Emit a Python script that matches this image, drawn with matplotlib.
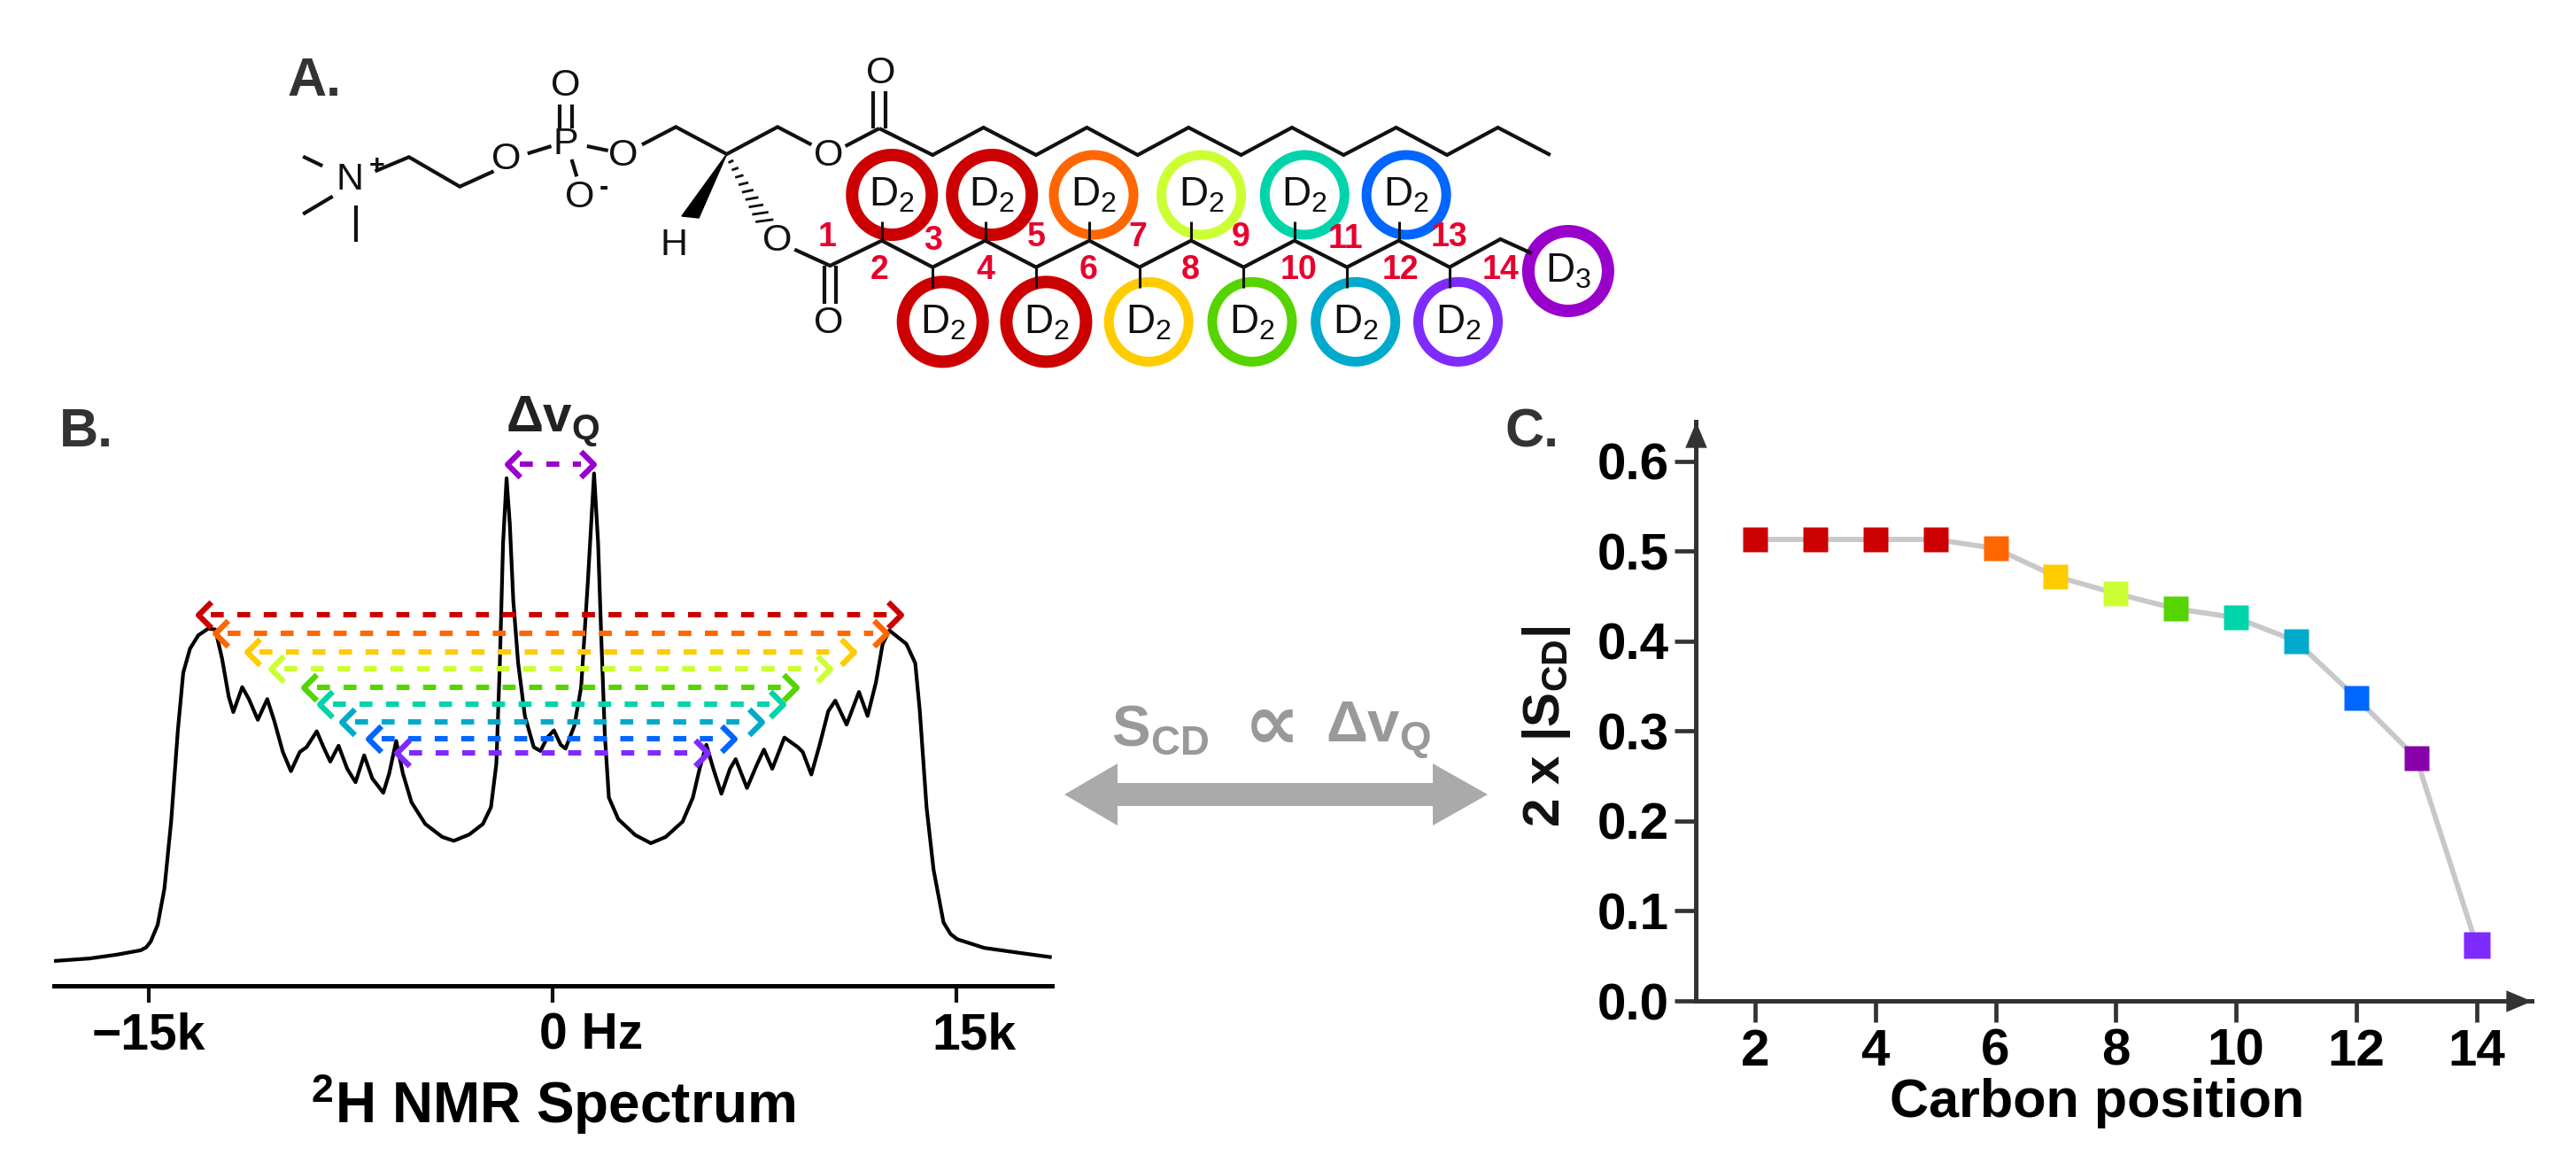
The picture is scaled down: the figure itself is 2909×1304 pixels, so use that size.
import matplotlib
matplotlib.use("Agg")
import matplotlib.pyplot as plt
from matplotlib.path import Path
from matplotlib.patches import Circle, Polygon
from matplotlib.transforms import ScaledTranslation

W, H = 2909, 1304
plt.rcParams['font.family'] = ['Liberation Sans', 'DejaVu Sans']
plt.rcParams['mathtext.fontset'] = 'custom'
plt.rcParams['mathtext.rm'] = 'Liberation Sans'
plt.rcParams['mathtext.bf'] = 'Liberation Sans:bold'
plt.rcParams['mathtext.it'] = 'Liberation Sans:italic'
plt.rcParams['mathtext.default'] = 'regular'

# ---------- data ----------
spectrum_khz = [-18.45,-17.19,-16.18,-15.30,-15.10,-14.93,-14.67,-14.42,-14.17,-13.92,-13.72,-13.47,-13.16,-12.79,-12.53,-12.28,-12.03,-11.86,-11.53,-11.28,-10.95,-10.60,-10.34,-10.02,-9.72,-9.39,-9.14,-8.76,-8.51,-8.26,-7.95,-7.63,-7.32,-7.00,-6.70,-6.29,-6.07,-5.81,-5.56,-5.24,-4.73,-4.10,-3.67,-3.10,-2.59,-2.29,-2.09,-1.96,-1.84,-1.71,-1.59,-1.46,-1.28,-1.03,-0.70,-0.45,-0.20,0.05,0.30,0.48,0.81,1.06,1.31,1.54,1.69,1.81,1.94,2.09,2.44,3.07,3.65,4.20,4.83,5.21,5.46,5.71,5.97,6.27,6.59,6.80,7.22,7.60,7.85,8.16,8.61,9.11,9.29,9.61,9.92,10.24,10.50,10.92,11.38,11.70,12.01,12.26,12.51,13.14,13.47,13.64,13.89,14.15,14.52,14.78,15.03,16.03,17.29,18.47]
spectrum_int = [5.2,5.7,6.5,7.4,8.0,9.2,12.7,20.2,34.2,53.2,65.2,70.2,73.0,74.4,74.2,68.2,60.2,57.0,62.2,59.7,55.4,59.7,55.2,48.7,44.7,48.7,49.7,53.0,49.7,46.7,50.0,45.2,42.4,48.0,43.2,40.2,44.2,51.0,44.2,38.2,33.7,31.0,30.2,31.5,33.7,37.2,46.2,67.2,92.2,105.7,96.2,80.2,67.2,56.2,49.7,48.9,51.7,53.2,50.2,49.4,54.2,62.2,84.2,106.7,92.2,72.2,52.2,39.2,34.7,31.4,29.7,31.0,34.2,39.2,45.2,50.2,45.2,40.0,45.2,47.2,41.2,46.2,49.2,45.2,51.7,49.7,48.7,44.0,50.2,57.2,59.4,54.4,61.2,56.2,63.2,71.2,74.0,71.2,67.2,57.2,37.2,24.2,13.2,10.8,9.7,7.9,6.9,6.0]

splitting_left = [-13.14,-12.51,-11.33,-10.42,-9.21,-8.61,-7.80,-6.80,-5.77]
splitting_right = [12.90,12.36,11.15,10.27,9.00,8.52,7.72,6.71,5.71]
splitting_level = [77.2,73.4,69.5,66.0,62.2,58.6,55.0,51.4,48.5]
splitting_colors = ['#CC0000','#FF6600','#FFCC00','#CCFF33','#55D400','#00D4AA','#00AACC','#0066FF','#7F2AFF']
top_left, top_right, top_level = -1.66, 1.49, 108.6

carbon_pos = [2,3,4,5,6,7,8,9,10,11,12,13,14]
scd_values = [0.513,0.513,0.513,0.513,0.503,0.472,0.453,0.436,0.426,0.400,0.337,0.270,0.0625]
scd_colors = ['#CC0000','#CC0000','#CC0000','#CC0000','#FF6600','#FFCC00','#CCFF33','#55D400','#00D4AA','#00AACC','#0066FF','#8800AA','#7F2AFF']

upper_rings = [(760,540,'#CC0000'),(878,540,'#CC0000'),(998,540,'#FF6600'),(1125,540,'#CCFF33'),(1247,540,'#00D4AA'),(1367,540,'#0066FF')]
lower_rings = [(820,970,'#CC0000'),(942,970,'#CC0000'),(1063,970,'#FFCC00'),(1185,970,'#55D400'),(1307,970,'#00AACC'),(1428,970,'#7F2AFF')]

fig = plt.figure(figsize=(W/100, H/100), dpi=100, facecolor='white')
def pxaxes(l, t, r, b):
    return fig.add_axes([l/W, 1-b/H, (r-l)/W, (b-t)/H])

# ---------- overlay in pixel coordinates ----------
ov = fig.add_axes([0,0,1,1], zorder=5)
ov.set_xlim(0,W); ov.set_ylim(H,0); ov.axis('off'); ov.patch.set_alpha(0)
zx = lambda x: 280 + x/1.045
zy = lambda y: 40 + y/3

def bond(pts, lw=3.0, c='#111111'):
    ov.plot([zx(p[0]) for p in pts],[zy(p[1]) for p in pts],color=c,lw=lw,solid_joinstyle='miter',solid_capstyle='butt')
def atom(x,y,s,fs=31,**k):
    ov.text(zx(x),zy(y),s,fontsize=fs,ha='center',va='center',color='#111111',**k)

bond([(65,410),(88,442)]); bond([(100,545),(65,605)]); bond([(127,575),(127,700)])
bond([(150,460),(190,412),(250,512),(290,460)])
bond([(330,400),(358,375)]); bond([(368,315),(368,235)]); bond([(382,315),(382,235)])
bond([(382,420),(388,478)]); bond([(400,375),(425,390)])
bond([(465,370),(505,310),(565,402),(625,310),(665,370)])
bond([(705,375),(745,315)]); bond([(738,315),(738,190)]); bond([(752,315),(752,190)])
bond([(745,315),(808,405),(868,312),(930,405),(990,312),(1050,405),(1110,312),(1172,405),(1232,312),(1293,405),(1355,312),(1415,405),(1475,312),(1537,405)])
bond([(645,725),(687,780),(748,695),(808,785),(870,695),(930,785),(993,695),(1052,785),(1113,695),(1175,785),(1235,695),(1297,785),(1358,695),(1418,785),(1478,690),(1515,738)])
bond([(680,780),(680,910)]); bond([(694,780),(694,910)])
for x in (748,870,993,1113,1235,1358):
    bond([(x,695),(x,630)],lw=2.2)
for x in (808,930,1052,1175,1297,1418):
    bond([(x,785),(x,855)],lw=2.2)
ov.add_patch(Polygon([(zx(565),zy(402)),(zx(512),zy(612)),(zx(532),zy(618))],closed=True,fc='black',ec='black',lw=1))
for i in range(9):
    f=(i+1)/9.5
    cx=565+(612-565)*f; cy=402+(640-402)*f; hw=2+9*f
    bond([(cx-hw,cy+4),(cx+hw,cy-4)],lw=2)

for x,y,s in [(120,490,'N'),(305,420,'O'),(375,370,'P'),(375,170,'O'),(392,550,'O'),(443,408,'O'),
              (685,408,'O'),(747,130,'O'),(503,710,'H'),(625,695,'O'),(685,975,'O')]:
    atom(x,y,s)
atom(152,445,'+',fs=22,fontweight='bold'); atom(420,515,'-',fs=22,fontweight='bold')

for x,y,c in upper_rings+lower_rings+[(1558,798,'#9900CC')]:
    lw = 14 if c=='#CC0000' or c=='#9900CC' else 11
    ov.add_patch(Circle((zx(x),zy(y)),45,fc='none',ec=c,lw=lw*0.72))
for x,y,c in upper_rings+lower_rings:
    ov.text(zx(x),zy(y)+1,'D$_2$',fontsize=33,ha='center',va='center',color='#111111')
ov.text(zx(1558),zy(798)+1,'D$_3$',fontsize=33,ha='center',va='center',color='#111111')

for x,y,s in [(683,685,'1'),(808,695,'3'),(930,685,'5'),(1050,685,'7'),(1172,685,'9'),(1295,690,'11'),(1418,685,'13'),
              (745,795,'2'),(870,795,'4'),(992,795,'6'),(1112,795,'8'),(1240,795,'10'),(1360,795,'12'),(1478,795,'14')]:
    ov.text(zx(x),zy(y),s,fontsize=27,fontweight='bold',color='#E8002D',ha='center',va='center')

# panel letters
for x,y,s in [(355,93,'A.'),(97,489,'B.'),(1730,489,'C.')]:
    ov.text(x,y,s,fontsize=44,fontweight='bold',color='#333333',ha='center',va='center')

# delta nu label
ov.text(624,476,r'$\mathbf{\Delta v_Q}$',fontsize=42,color='#222222',ha='center',va='center')

# centre relation
gray='#999999'
ov.text(1310,825,r'$\mathbf{S_{CD}}$',fontsize=47,color=gray,ha='center',va='center')
ov.text(1436,822,'\u221d',fontsize=64,fontweight='bold',color=gray,ha='center',va='center',family='DejaVu Sans')
ov.text(1557,825,r'$\mathbf{\Delta v_Q}$',fontsize=47,color=gray,ha='center',va='center')
ov.add_patch(Polygon([(1202,897),(1262,862),(1262,884),(1618,884),(1618,862),(1680,897),(1618,932),(1618,910),(1262,910),(1262,932)],
                     closed=True,fc='#AAAAAA',ec='none'))

# ---------- panel B ----------
axb = pxaxes(61,470,1188,1113)
axb.set_xlim(-18.52,18.55); axb.set_ylim(0,118.6)
axb.plot(spectrum_khz,spectrum_int,color='black',lw=3.0,solid_joinstyle='round')
left_chev = Path([(0.5,1),(-0.5,0),(0.5,-1)],[Path.MOVETO,Path.LINETO,Path.LINETO])
right_chev = Path([(-0.5,1),(0.5,0),(-0.5,-1)],[Path.MOVETO,Path.LINETO,Path.LINETO])
def splitter(l,r,y,c):
    axb.plot([l+0.45,r-0.45],[y,y],color=c,lw=4.4,ls=(0,(2.4,2.5)),zorder=3)
    axb.plot([l+0.2],[y],marker=left_chev,ms=21,mfc='none',mec=c,mew=4.6,zorder=4,ls='none')
    axb.plot([r-0.2],[y],marker=right_chev,ms=21,mfc='none',mec=c,mew=4.6,zorder=4,ls='none')
for l,r,y,c in zip(splitting_left,splitting_right,splitting_level,splitting_colors):
    splitter(l,r,y,c)
splitter(top_left,top_right,top_level,'#9900CC')
axb.set_yticks([])
for s in ('top','left','right'): axb.spines[s].set_visible(False)
axb.spines['bottom'].set_linewidth(3.6)
axb.patch.set_alpha(0)
axb.set_xticks([-15,0,15]); axb.set_xticklabels(['\u221215k','0 Hz','15k'],fontsize=41,fontweight='bold')
axb.tick_params(axis='x',length=14,width=3,pad=7,color='#111111')
shift = {'0 Hz':44,'15k':20}
for lb in axb.get_xticklabels():
    dx = shift.get(lb.get_text(),0)
    lb.set_transform(lb.get_transform()+ScaledTranslation(dx/100,0,fig.dpi_scale_trans))
axb.set_xlabel('$\\mathbf{^2}$H NMR Spectrum',fontsize=46,fontweight='bold',labelpad=10,x=0.5)

# ---------- panel C ----------
axc = pxaxes(1915,476,2859,1130)
axc.set_xlim(1.013,14.92); axc.set_ylim(0,0.644)
axc.plot(carbon_pos,scd_values,color='#C8C8C8',lw=4.2,zorder=2)
for x,v,c in zip(carbon_pos,scd_values,scd_colors):
    axc.plot([x],[v],marker='s',ms=20 if x!=14 else 22,color=c,mec='none',zorder=3,ls='none')
for s in ('top','right'): axc.spines[s].set_visible(False)
for s in ('left','bottom'):
    axc.spines[s].set_linewidth(3.6); axc.spines[s].set_color('#333333')
axc.patch.set_alpha(0)
axc.set_xticks(carbon_pos[::2]); axc.set_xticklabels([str(v) for v in carbon_pos[::2]],fontsize=42,fontweight='bold')
yt=[0.0,0.1,0.2,0.3,0.4,0.5,0.6]
axc.set_yticks(yt); axc.set_yticklabels([f'{v:.1f}' for v in yt],fontsize=42,fontweight='bold')
axc.tick_params(axis='both',length=17,width=3.4,color='#333333',pad=5)
arrow_right = Path([(0,0),(-1,0.42),(-1,-0.42),(0,0)],[Path.MOVETO,Path.LINETO,Path.LINETO,Path.CLOSEPOLY])
arrow_up = Path([(0,0),(0.42,-1),(-0.42,-1),(0,0)],[Path.MOVETO,Path.LINETO,Path.LINETO,Path.CLOSEPOLY])
axc.plot([1],[0],marker=arrow_right,ms=42,color='#333333',transform=axc.transAxes,clip_on=False,mec='none',zorder=6)
axc.plot([0],[1],marker=arrow_up,ms=42,color='#333333',transform=axc.transAxes,clip_on=False,mec='none',zorder=6)
axc.set_xlabel('Carbon position',fontsize=44,fontweight='bold',labelpad=2,x=0.48)
ov.text(1747,820,r'$\mathbf{2\ x\ |S_{CD}|}$',fontsize=42,rotation=90,ha='center',va='center',color='#111111')

fig.savefig('out.png',dpi=100,facecolor='white')
